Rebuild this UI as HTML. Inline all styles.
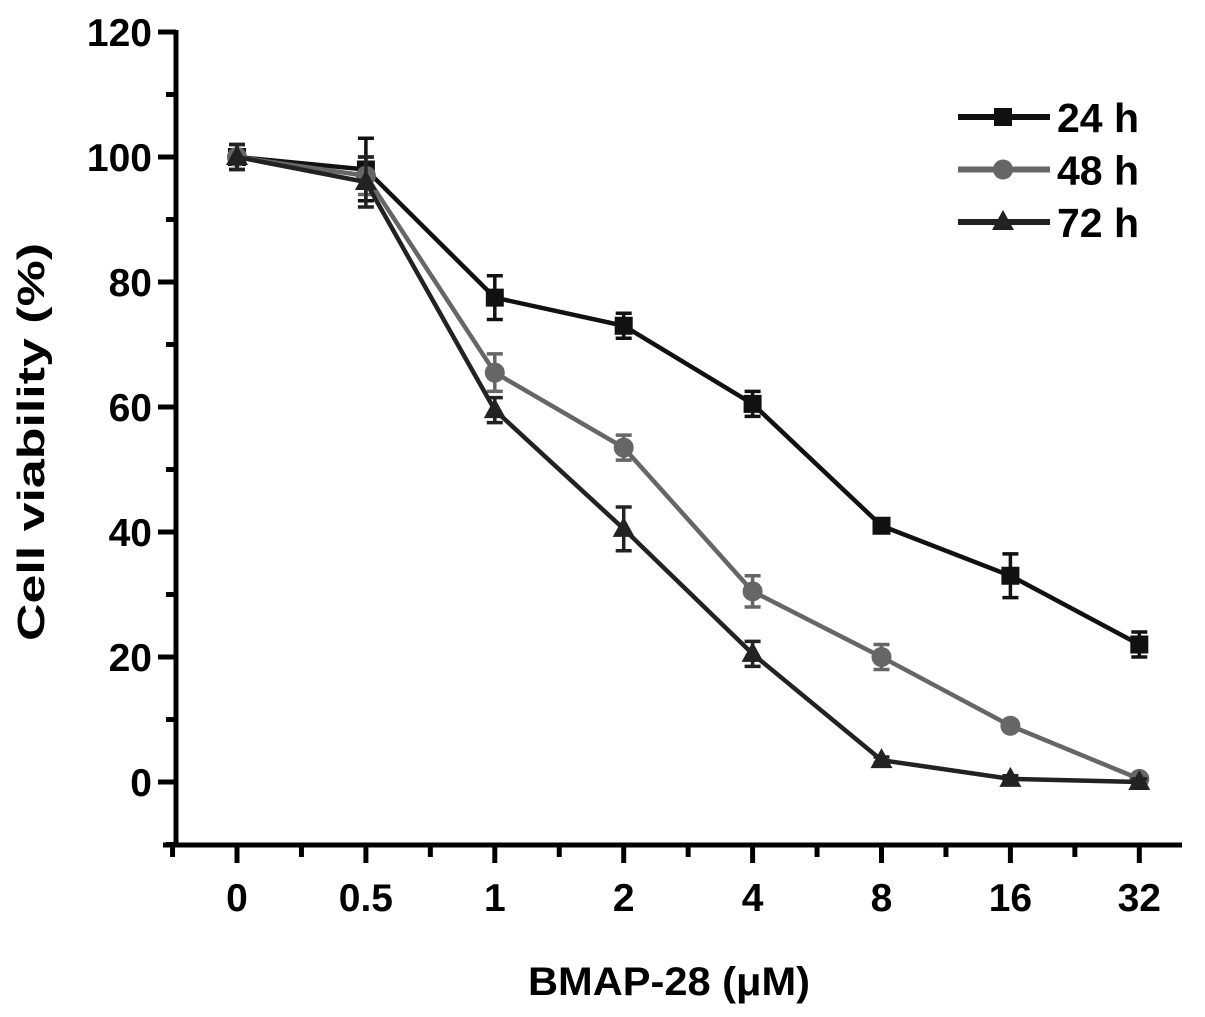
<!DOCTYPE html>
<html><head><meta charset="utf-8"><style>
body{margin:0;background:#fff}
svg text{font-family:"Liberation Sans",Arial,sans-serif;font-weight:bold;fill:#000}
</style></head><body>
<svg id="chart" width="1205" height="1012" viewBox="0 0 1205 1012" xmlns="http://www.w3.org/2000/svg">
<g id="axes"></g>
<g id="series"></g>
<g id="legend"></g>
<text x="0" y="0" font-size="38" text-anchor="middle" textLength="398" lengthAdjust="spacingAndGlyphs" transform="translate(44,442) rotate(-90)">Cell viability (%)</text>
<text x="669" y="995" font-size="40" text-anchor="middle" textLength="282" lengthAdjust="spacingAndGlyphs">BMAP-28 (μM)</text>
</svg>
<script>
const categories = ["0","0.5","1","2","4","8","16","32"];
const yTicks = [0,20,40,60,80,100,120];
const v24 = [100,98,77.5,73,60.5,41,33,22];
const e24 = [2,5,3.5,2,2,1,3.5,2];
const v48 = [100,97,65.5,53.5,30.5,20,9,0.5];
const e48 = [2,3,3,2,2.5,2,0.5,0.5];
const v72 = [100,96,59.5,40.5,20.5,3.5,0.5,0];
const e72 = [2,4,2,3.5,2,0.5,0.5,0.5];
const seriesNames = ["24 h","48 h","72 h"];

const NS="http://www.w3.org/2000/svg";
function yS(v){return 782-v*6.25;}
function xS(i){return 237+i*128.9;}
function mk(tag,attrs,parent){const e=document.createElementNS(NS,tag);for(const k in attrs)e.setAttribute(k,attrs[k]);parent.appendChild(e);return e;}
const axes=document.getElementById('axes');
let a=mk('line',{x1:176,y1:30,x2:176,y2:847,stroke:'#000','stroke-width':5},axes);

a=mk('line',{x1:163,y1:845,x2:1182,y2:845,stroke:'#000','stroke-width':5},axes);

for(let v=-10;v<=120;v+=10){
  const major=v%20===0&&v>=0;
  const t=mk('line',{x1:major?158:166,y1:yS(v),x2:176,y2:yS(v),stroke:'#000','stroke-width':5},axes);
  
}
yTicks.forEach(v=>{const t=mk('text',{x:152,y:yS(v)+14,'font-size':39,'text-anchor':'end'},axes);t.textContent=v;
  });
for(let k=-1;k<=15;k++){
  const x=237+k*64.45, major=k%2===0&&k>=0;
  if(x>1180)break;
  const t=mk('line',{x1:x,y1:845,x2:x,y2:major?863:857,stroke:'#000','stroke-width':5},axes);
  
}
categories.forEach((c,i)=>{const t=mk('text',{x:xS(i),y:911,'font-size':39,'text-anchor':'middle'},axes);t.textContent=c;
  });

const colors=['#111','#666','#222'];
const shapes=['square','circle','triangle'];
function marker(shape,x,y,col,g){
  let m;
  if(shape==='square')m=mk('rect',{x:x-9,y:y-9,width:18,height:18,fill:col},g);
  else if(shape==='circle')m=mk('circle',{cx:x,cy:y,r:10,fill:col},g);
  else m=mk('polygon',{points:`${x},${y-12} ${x+11},${y+8} ${x-11},${y+8}`,fill:col},g);
  return m;
}
const sg=document.getElementById('series');
[[v24,e24],[v48,e48],[v72,e72]].forEach(([vals,errs],s)=>{
  const g=mk('g',{},sg);
  
  
  const pts=vals.map((v,i)=>xS(i)+','+yS(v)).join(' ');
  const l=mk('polyline',{points:pts,fill:'none',stroke:colors[s],'stroke-width':4.5},g);
  
  vals.forEach((v,i)=>{
    const x=xS(i),t=yS(v+errs[i]),b=yS(v-errs[i]);
    const eb=mk('path',{d:`M${x},${t}V${b}M${x-8},${t}H${x+8}M${x-8},${b}H${x+8}`,stroke:colors[s],'stroke-width':3.5,fill:'none'},g);
    
    const m=marker(shapes[s],x,yS(v),colors[s],g);
    
  });
});
const lg=document.getElementById('legend');
seriesNames.forEach((n,s)=>{
  const y=117+s*52.5;
  const g=mk('g',{},lg);
  
  mk('line',{x1:958,y1:y,x2:1050,y2:y,stroke:colors[s],'stroke-width':6},g);
  marker(shapes[s],1003,y,colors[s],g);
  const t=mk('text',{x:1057,y:y+15,'font-size':41},g);t.textContent=n;
});
</script>
</body></html>
